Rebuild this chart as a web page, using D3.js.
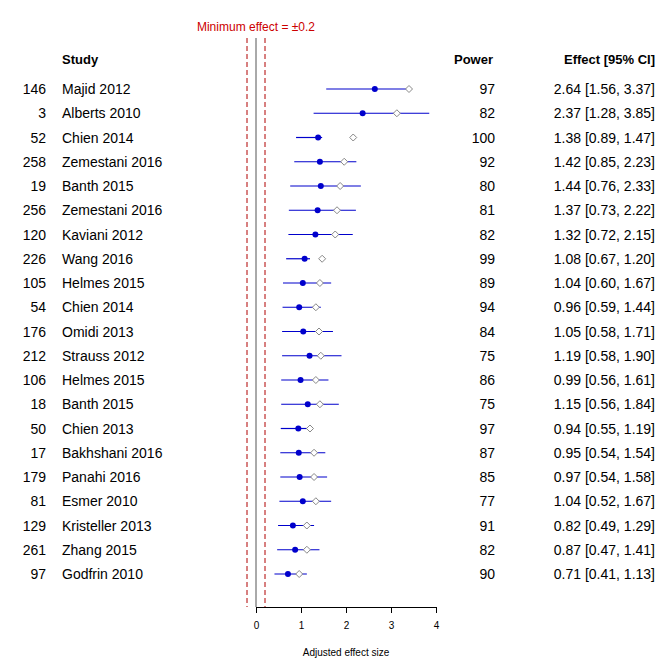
<!DOCTYPE html>
<html><head><meta charset="utf-8">
<script src="https://cdn.jsdelivr.net/npm/d3@7"></script>
<style>body{margin:0;background:#fff}text{font-family:"Liberation Sans",Arial,sans-serif}</style>
</head><body><div id="chart"></div>
<script>
var ids = [146, 3, 52, 258, 19, 256, 120, 226, 105, 54, 176, 212, 106, 18, 50, 17, 179, 81, 129, 261, 97];
var studies = ["Majid 2012", "Alberts 2010", "Chien 2014", "Zemestani 2016", "Banth 2015", "Zemestani 2016", "Kaviani 2012", "Wang 2016", "Helmes 2015", "Chien 2014", "Omidi 2013", "Strauss 2012", "Helmes 2015", "Banth 2015", "Chien 2013", "Bakhshani 2016", "Panahi 2016", "Esmer 2010", "Kristeller 2013", "Zhang 2015", "Godfrin 2010"];
var power = [97, 82, 100, 92, 80, 81, 82, 99, 89, 94, 84, 75, 86, 75, 97, 87, 85, 77, 91, 82, 90];
var effect = [2.64, 2.37, 1.38, 1.42, 1.44, 1.37, 1.32, 1.08, 1.04, 0.96, 1.05, 1.19, 0.99, 1.15, 0.94, 0.95, 0.97, 1.04, 0.82, 0.87, 0.71];
var lower = [1.56, 1.28, 0.89, 0.85, 0.76, 0.73, 0.72, 0.67, 0.60, 0.59, 0.58, 0.58, 0.56, 0.56, 0.55, 0.54, 0.54, 0.52, 0.49, 0.47, 0.41];
var upper = [3.37, 3.85, 1.47, 2.23, 2.33, 2.22, 2.15, 1.20, 1.67, 1.44, 1.71, 1.90, 1.61, 1.84, 1.19, 1.54, 1.58, 1.67, 1.29, 1.41, 1.13];
var unadjusted = [3.40, 3.13, 2.16, 1.96, 1.87, 1.80, 1.76, 1.47, 1.42, 1.33, 1.40, 1.44, 1.33, 1.42, 1.20, 1.29, 1.29, 1.33, 1.13, 1.13, 0.96];
var xTicks = [0, 1, 2, 3, 4];
var minEffect = 0.2;

var W = 672, H = 671;
var svg = d3.select("#chart").append("svg").attr("width", W).attr("height", H);

var x = d3.scaleLinear().domain([0, 4]).range([256, 436]);
var y = d3.scaleLinear().domain([0, ids.length - 1]).range([89, 574]);

// reference lines
[-minEffect, minEffect].forEach(function(v) {
    svg.append("line").attr("x1", x(v)).attr("x2", x(v)).attr("y1", 38).attr("y2", 607)
        .attr("stroke", "#b00000").attr("stroke-width", 1).attr("stroke-dasharray", "5,3");
});
svg.append("line").attr("x1", x(0)).attr("x2", x(0)).attr("y1", 38).attr("y2", 607)
    .attr("stroke", "#555").attr("stroke-width", 1);

svg.append("text").attr("x", x(0)).attr("y", 31).attr("text-anchor", "middle")
    .attr("fill", "#cc0000").style("font-size", "12px").text("Minimum effect = \u00b10.2");

// headers
svg.append("text").attr("x", 62).attr("y", 64).style("font-size", "13px").style("font-weight", "bold").text("Study");
svg.append("text").attr("x", 493).attr("y", 64).attr("text-anchor", "end").style("font-size", "13px").style("font-weight", "bold").text("Power");
svg.append("text").attr("x", 655).attr("y", 64).attr("text-anchor", "end").style("font-size", "13px").style("font-weight", "bold").text("Effect [95% CI]");

// axis
var axis = svg.append("g").attr("transform", "translate(0,607)")
    .call(d3.axisBottom(x).tickValues(xTicks).tickFormat(d3.format("d")).tickSize(6).tickSizeOuter(0));
axis.select(".domain").attr("stroke", "#000");
axis.selectAll("text").style("font-size", "10px").style("font-family", "Liberation Sans, Arial, sans-serif").attr("dy", "1.3em");
svg.append("text").attr("x", x(2)).attr("y", 656).attr("text-anchor", "middle").style("font-size", "10px").text("Adjusted effect size");

var rows = svg.selectAll("g.row").data(ids).enter().append("g").attr("class", "row")
    .attr("transform", function(d, i) { return "translate(0," + y(i) + ")"; });

rows.append("text").attr("x", 46).attr("y", 5).attr("text-anchor", "end").style("font-size", "14px").text(function(d) { return d; });
rows.append("text").attr("x", 62).attr("y", 5).style("font-size", "14px").text(function(d, i) { return studies[i]; });
rows.append("text").attr("x", 495).attr("y", 5).attr("text-anchor", "end").style("font-size", "14px").text(function(d, i) { return power[i]; });
rows.append("text").attr("x", 655).attr("y", 5).attr("text-anchor", "end").style("font-size", "14px")
    .text(function(d, i) { return effect[i].toFixed(2) + " [" + lower[i].toFixed(2) + ", " + upper[i].toFixed(2) + "]"; });

rows.append("line").attr("x1", function(d, i) { return x(lower[i]); }).attr("x2", function(d, i) { return x(upper[i]); })
    .attr("stroke", "#0000cc").attr("stroke-width", 1.2);
rows.append("path").attr("transform", function(d, i) { return "translate(" + x(unadjusted[i]) + ",0)"; })
    .attr("d", "M0,-3.5L3.5,0L0,3.5L-3.5,0Z").attr("fill", "#fff").attr("stroke", "#888").attr("stroke-width", 1);
rows.append("circle").attr("cx", function(d, i) { return x(effect[i]); }).attr("r", 3).attr("fill", "#0000cc");
</script></body></html>
